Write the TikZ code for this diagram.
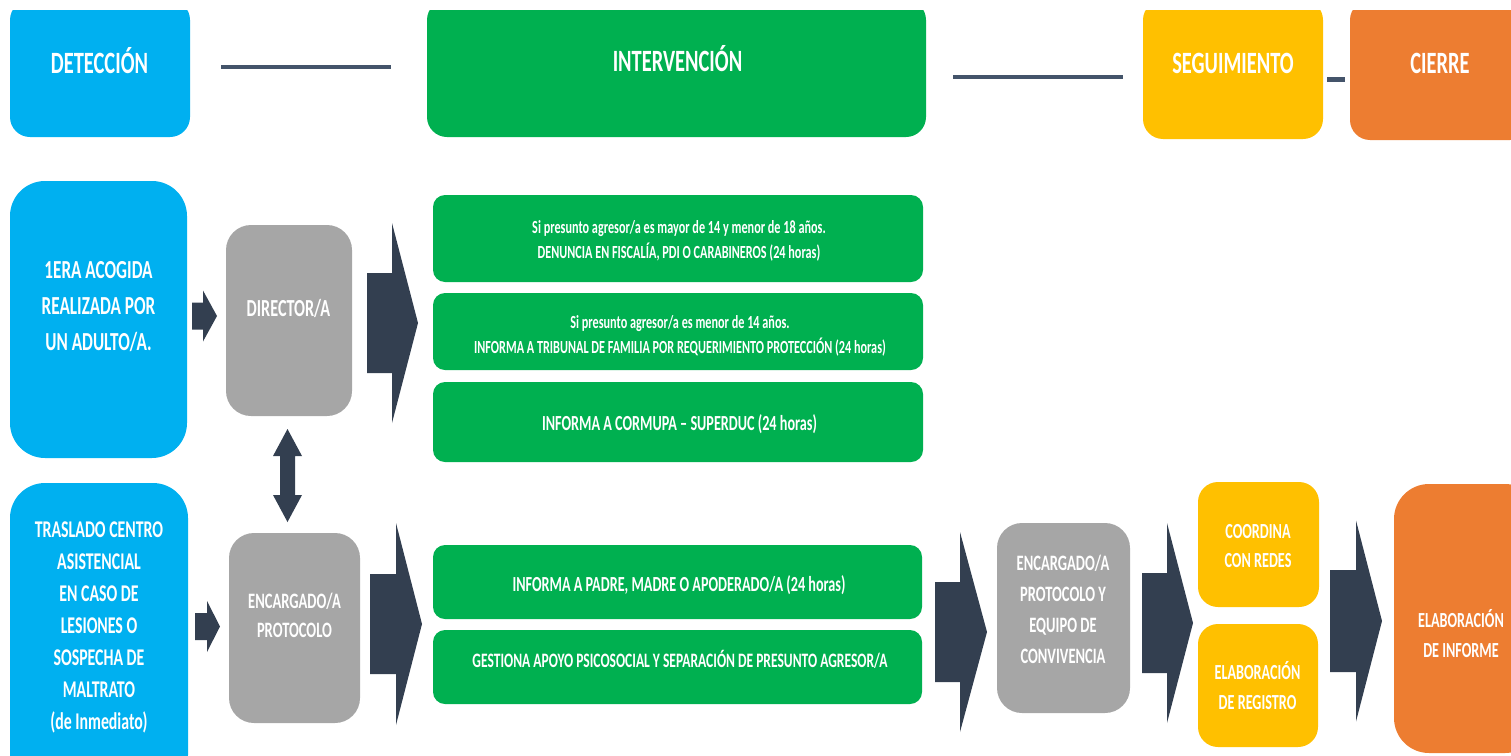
\documentclass[tikz,border=0pt]{standalone}
\usepackage{fontspec}
\newfontfamily\cf{Carlito}[FakeStretch=0.66]
\definecolor{cyanc}{HTML}{00B0F0}
\definecolor{greenc}{HTML}{00B050}
\definecolor{yellowc}{HTML}{FFC000}
\definecolor{orangec}{HTML}{ED7D31}
\definecolor{grayc}{HTML}{A6A6A6}
\definecolor{arrowc}{HTML}{333F50}
\definecolor{linec}{HTML}{44546A}
\newcommand\tx[3]{{\fontsize{#1}{#2}\selectfont\begin{tabular}[t]{@{}c@{}}#3\end{tabular}}}
\newcommand\blockarr[6]{%
  \fill[arrowc] (#1,#4-#5) -- (#2,#4-#5) -- (#2,#4-#6) -- (#3,#4) -- (#2,#4+#6) -- (#2,#4+#5) -- (#1,#4+#5) -- cycle;}
\begin{document}
\begin{tikzpicture}[x=1pt,y=-1pt,
  rbox/.style={rectangle, inner sep=0pt, outer sep=0pt, draw=none},
  lbl/.style={anchor=base, inner sep=0pt, outer sep=0pt, text=white, font=\cf\bfseries},
  hline/.style={draw=linec, line width=4.5pt}]
\useasboundingbox (0,0) rectangle (1511,755);
\clip (0,0) rectangle (1511,755);
% ---------- header ----------
\begin{scope}
\clip (0,10) rectangle (1511,200);
\node[rbox, fill=cyanc, rounded corners=20pt, minimum width=180pt, minimum height=137pt] (det) at (100,68.5) {};
\node[rbox, fill=greenc, rounded corners=20pt, minimum width=499pt, minimum height=137pt] (int) at (676.5,68.5) {};
\node[rbox, fill=yellowc, rounded corners=20pt, minimum width=180pt, minimum height=139pt] (seg) at (1233,69.5) {};
\node[rbox, fill=orangec, rounded corners=20pt, minimum width=180pt, minimum height=140pt] (cie) at (1440,70) {};
\end{scope}
\node[lbl] (detT) at (99.5,73) {\tx{31}{36}{DETECCIÓN}};
\node[lbl] (intT) at (677.5,71) {\tx{31}{36}{INTERVENCIÓN}};
\node[lbl] (segT) at (1233,73) {\tx{31}{36}{SEGUIMIENTO}};
\node[lbl] (cieT) at (1440,73) {\tx{31}{36}{CIERRE}};
\coordinate (l1a) at (221,67); \coordinate (l1b) at (391,67);
\coordinate (l2a) at (953,77); \coordinate (l2b) at (1123,77);
\coordinate (l3a) at (1327,79); \coordinate (l3b) at (1345,79);
\draw[hline] (l1a) -- (l1b);
\draw[hline] (l2a) -- (l2b);
\draw[hline, line width=5pt] (l3a) -- (l3b);
% ---------- row 1 ----------
\node[rbox, fill=cyanc, rounded corners=35pt, minimum width=177pt, minimum height=277pt] (acog) at (98.5,319.5) {};
\node[lbl] (acogT) at (98.5,278) {\tx{26}{36}{1ERA ACOGIDA\\REALIZADA POR\\UN ADULTO/A.}};
\node[rbox, fill=grayc, rounded corners=25pt, minimum width=126pt, minimum height=191pt] (dir) at (289,320.5) {};
\node[lbl] (dirT) at (288.5,316) {\tx{24.5}{30}{DIRECTOR/A}};
\node[rbox, fill=greenc, rounded corners=12pt, minimum width=490pt, minimum height=87pt] (gA) at (678,238.5) {};
\node[lbl] (gAT) at (679,233) {\tx{18.5}{25}{Si presunto agresor/a es mayor de 14 y menor de 18 años.\\DENUNCIA EN FISCALÍA, PDI O CARABINEROS (24 horas)}};
\node[rbox, fill=greenc, rounded corners=12pt, minimum width=490pt, minimum height=77pt] (gB) at (678,331.5) {};
\node[lbl] (gBT) at (680,328) {\tx{18.5}{25}{Si presunto agresor/a es menor de 14 años.\\INFORMA A TRIBUNAL DE FAMILIA POR REQUERIMIENTO PROTECCIÓN (24 horas)}};
\node[rbox, fill=greenc, rounded corners=12pt, minimum width=490pt, minimum height=80pt] (gC) at (678,422) {};
\node[lbl] (gCT) at (679.5,430) {\tx{21.5}{27}{INFORMA A CORMUPA – SUPERDUC (24 horas)}};
% ---------- row 2 ----------
\node[rbox, fill=cyanc, rounded corners=35pt, minimum width=178pt, minimum height=307pt] (tras) at (99,636.5) {};
\node[lbl] (trasT) at (99,537) {\tx{24}{32}{TRASLADO CENTRO\\ASISTENCIAL\\EN CASO DE\\LESIONES O\\SOSPECHA DE\\MALTRATO\\(de Inmediato)}};
\node[rbox, fill=grayc, rounded corners=25pt, minimum width=131pt, minimum height=190pt] (enc) at (294.5,628) {};
\node[lbl] (encT) at (294.5,608) {\tx{22}{29}{ENCARGADO/A\\PROTOCOLO}};
\node[rbox, fill=greenc, rounded corners=12pt, minimum width=489pt, minimum height=74pt] (gD) at (677.5,582) {};
\node[lbl] (gDT) at (679,591) {\tx{21.5}{27}{INFORMA A PADRE, MADRE O APODERADO/A (24 horas)}};
\node[rbox, fill=greenc, rounded corners=12pt, minimum width=489pt, minimum height=74pt] (gE) at (677.5,667) {};
\node[lbl] (gET) at (680,667) {\tx{20.5}{27}{GESTIONA APOYO PSICOSOCIAL Y SEPARACIÓN DE PRESUNTO AGRESOR/A}};
\node[rbox, fill=grayc, rounded corners=25pt, minimum width=133pt, minimum height=190pt] (enc2) at (1063.5,618) {};
\node[lbl] (enc2T) at (1063,570) {\tx{22}{31}{ENCARGADO/A\\PROTOCOLO Y\\EQUIPO DE\\CONVIVENCIA}};
\node[rbox, fill=yellowc, rounded corners=20pt, minimum width=121pt, minimum height=125pt] (yc1) at (1258.5,544.5) {};
\node[lbl] (yc1T) at (1258,538) {\tx{21.5}{29}{COORDINA\\CON REDES}};
\node[rbox, fill=yellowc, rounded corners=20pt, minimum width=120pt, minimum height=123pt] (yc2) at (1258,685.5) {};
\node[lbl] (yc2T) at (1257.5,679) {\tx{21.5}{30}{ELABORACIÓN\\DE REGISTRO}};
\node[rbox, fill=orangec, rounded corners=35pt, minimum width=146pt, minimum height=269pt] (inf) at (1467,618.5) {};
\node[lbl] (infT) at (1461,627) {\tx{21.5}{30}{ELABORACIÓN\\DE INFORME}};
% ---------- block arrows ----------
\blockarr{192}{203}{217}{316}{13.5}{25.5}
\blockarr{195}{207}{220}{626.5}{13.5}{25.5}
\blockarr{367}{392}{418}{323}{50}{100}
\blockarr{370}{396}{422}{624}{50}{101}
\blockarr{935}{960}{987}{632}{50}{100}
\blockarr{1142}{1167}{1193}{623}{50}{100}
\blockarr{1330}{1356}{1382}{621}{51}{100.5}
% double arrow between DIRECTOR/A and ENCARGADO/A
\fill[arrowc] (287.5,429) -- (302,456) -- (295,456) -- (295,495) -- (302,495) -- (287.5,522)
  -- (273,495) -- (280,495) -- (280,456) -- (273,456) -- cycle;
\end{tikzpicture}
\end{document}
